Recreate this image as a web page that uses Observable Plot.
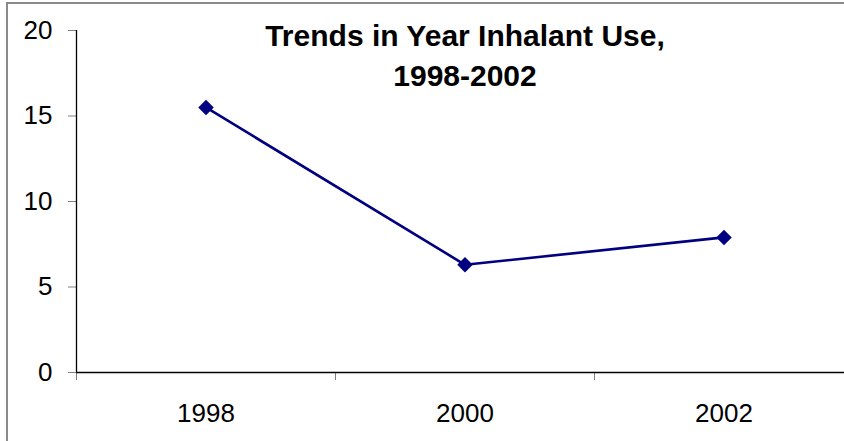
<!DOCTYPE html>
<html>
<head>
<meta charset="utf-8">
<script src="https://cdn.jsdelivr.net/npm/d3@7"></script>
<script src="https://cdn.jsdelivr.net/npm/@observablehq/plot@0.6"></script>
<style>
  html, body { margin: 0; padding: 0; background: #fff; overflow: hidden; width: 844px; height: 441px; }
  #frame { position: absolute; left: 6px; top: 2px; width: 900px; height: 480px; border: 2px solid #8a8a8a; box-sizing: border-box; }
  #chart { position: absolute; left: 0; top: 0; width: 900px; }
  #chart svg { max-width: none !important; }
  .title { position: absolute; font-family: "Liberation Sans", Arial, sans-serif; font-weight: bold; font-size: 30px; color: #000; white-space: nowrap; transform: translateX(-50%); line-height: 1; }
</style>
</head>
<body>
<div id="frame"></div>
<div id="chart"></div>
<div class="title" id="t1" style="left:465px; top:21px;">Trends in Year Inhalant Use,</div>
<div class="title" id="t2" style="left:465px; top:61px;">1998-2002</div>
<script>
const years = ["1998", "2000", "2002"];
const values = [15.5, 6.3, 7.9];
const yTicks = [0, 5, 10, 15, 20];

const data = years.map((y, i) => ({year: y, pos: i + 0.5, value: values[i]}));
const bandEdges = d3.range(years.length + 1);

const chart = Plot.plot({
  width: 900,
  height: 441,
  marginLeft: 76,
  marginRight: 47,
  marginTop: 30,
  marginBottom: 69,
  style: { fontFamily: "'Liberation Sans', Arial, sans-serif", background: "transparent", overflow: "visible", maxWidth: "none" },
  x: { domain: [0, years.length], axis: null },
  y: { domain: [0, 20], axis: null },
  marks: [
    Plot.axisY(yTicks, { tickSize: 8, tickPadding: 16, stroke: "#808080", fill: "#000", fontSize: 26, label: null, tickFormat: d => String(d) }),
    Plot.axisX(bandEdges, { tickSize: 8, stroke: "#808080", tickFormat: () => "", label: null }),
    Plot.axisX(data.map(d => d.pos), { tickSize: 0, tickPadding: 31, fill: "#000", fontSize: 26, label: null, tickFormat: p => years[Math.floor(p)] }),
    Plot.ruleX([0], { stroke: "#000", strokeWidth: 1.3 }),
    Plot.ruleY([0], { stroke: "#000", strokeWidth: 1.3 }),
    Plot.line(data, { x: "pos", y: "value", stroke: "#000080", strokeWidth: 2.6 }),
    Plot.dot(data, { x: "pos", y: "value", symbol: "diamond2", r: 7, fill: "#000080", stroke: "none" })
  ]
});
document.getElementById("chart").appendChild(chart);
</script>
</body>
</html>
